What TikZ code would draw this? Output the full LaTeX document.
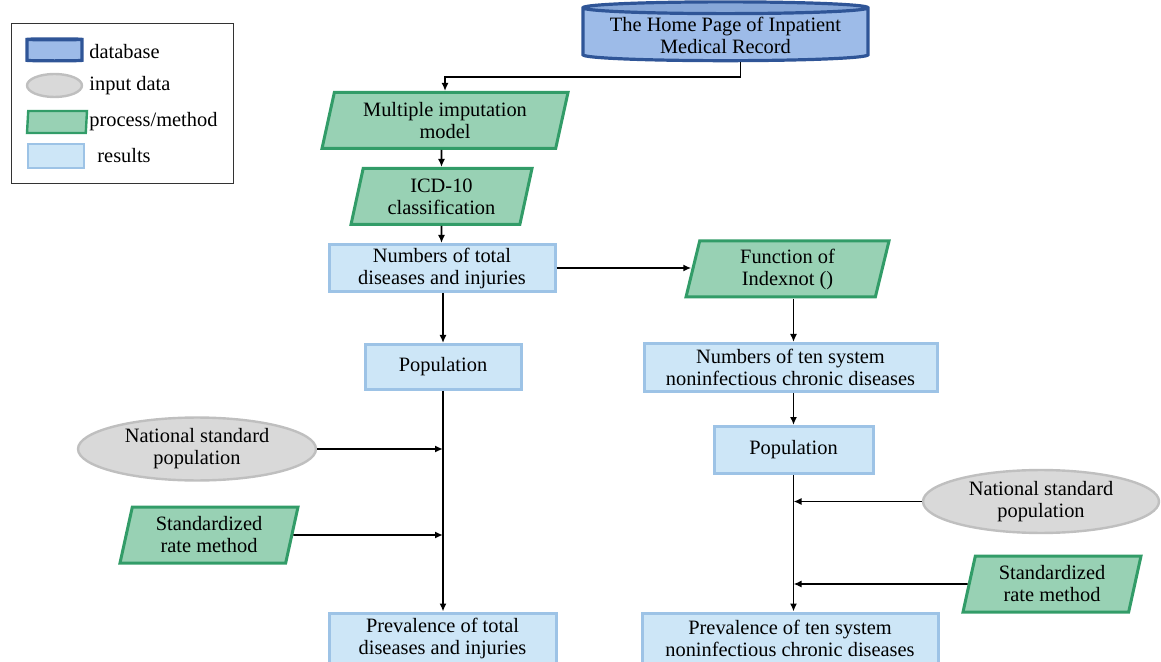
\documentclass[tikz,border=0pt]{standalone}
\usepackage{fontspec}
\setmainfont{Liberation Serif}
\usepackage{xcolor}
\usepackage{tikz}
\usetikzlibrary{shapes.geometric, arrows.meta, positioning, fit}

\definecolor{dbFill}{RGB}{157,187,232}
\definecolor{dbLine}{RGB}{47,85,151}
\definecolor{inFill}{RGB}{217,217,217}
\definecolor{inLine}{RGB}{191,191,191}
\definecolor{procFill}{RGB}{152,209,180}
\definecolor{procLine}{RGB}{50,156,104}
\definecolor{resFill}{RGB}{205,230,247}
\definecolor{resLine}{RGB}{157,195,230}

\begin{document}
\begin{tikzpicture}[ % pixel grid of the figure
    x=0.5pt, y=-0.5pt,
    every node/.style={font=\fontsize{10.2}{11}\selectfont, align=center},
    database/.style={cylinder, shape border rotate=90, shape aspect=0.05, draw=dbLine, line width=1.6pt, cylinder uses custom fill, cylinder body fill=dbFill, cylinder end fill=dbFill!80!dbLine, inner sep=1pt},
    inputdata/.style={ellipse, draw=inLine, fill=inFill, line width=1.2pt, inner sep=1pt},
    process/.style={trapezium, trapezium left angle=73, trapezium right angle=107, trapezium stretches body, draw=procLine, fill=procFill, line width=1.5pt, minimum height=28pt, inner sep=1pt},
    result/.style={rectangle, draw=resLine, fill=resFill, line width=1.5pt, minimum height=23.5pt, inner sep=1pt},
    keytext/.style={inner sep=1pt, anchor=west},
    line/.style={draw, line width=0.9pt, -{Latex[length=4pt, width=3.5pt]}}
    ]
    \useasboundingbox (0,0) rectangle (1161,662);

    % Legend
    \node [database, shape aspect=0.25, minimum width=27.5pt, minimum height=11pt] (keyDb) at (54.5,51) {};
    \node [inputdata, minimum width=27.5pt, minimum height=11.5pt] (keyIn) at (54.5,85.5) {};
    \node [process, minimum width=30pt, minimum height=11pt, line width=1.2pt] (keyProc) at (57,122) {};
    \node [result, minimum width=28pt, minimum height=12pt, line width=1.2pt] (keyRes) at (56,156) {};
    \node [keytext] (keyDbText) at (87,52) {database};
    \node [keytext] (keyInText) at (87,86) {input data};
    \node [keytext] (keyProcText) at (87,122) {process/method};
    \node [keytext] (keyResText) at (95,156) {results};
    \node [draw=black!80, line width=0.6pt, fit=(keyDb) (keyRes) (keyProcText), inner xsep=7pt, inner ysep=7pt] (legend) {};

    % Source
    \node [database, minimum width=142.5pt, minimum height=27.5pt] (homePage) at (725.5,35.5) {The Home Page of Inpatient\\Medical Record};

    % Total diseases and injuries
    \node [process, minimum width=123pt] (imputation) at (445,120.5) {Multiple imputation\\model};
    \node [process, minimum width=90.5pt] (icd) at (441.5,196.5) {ICD-10\\classification};
    \node [result, minimum width=113pt] (totalNum) at (442,268) {Numbers of total\\diseases and injuries};
    \node [result, minimum width=78pt, minimum height=22.5pt] (totalPop) at (443,367) {Population};
    \node [result, minimum width=113.5pt, minimum height=25pt] (totalPrev) at (442.5,638) {Prevalence of total\\diseases and injuries};
    \node [inputdata, minimum width=119pt, minimum height=30pt] (totalStd) at (197,449) {National standard\\population};
    \node [process, minimum width=89pt] (totalRate) at (209,535) {Standardized\\rate method};

    % Ten system noninfectious chronic diseases
    \node [process, minimum width=101.5pt] (indexnot) at (787.5,269) {Function of\\Indexnot ()};
    \node [result, minimum width=146.5pt, minimum height=24pt] (tenNum) at (790.5,367.5) {Numbers of ten system\\noninfectious chronic diseases};
    \node [result, minimum width=79.5pt] (tenPop) at (793.5,450) {Population};
    \node [result, minimum width=148pt, minimum height=25pt] (tenPrev) at (790,638) {Prevalence of ten system\\noninfectious chronic diseases};
    \node [inputdata, minimum width=118pt, minimum height=27.5pt] (tenStd) at (1041,501.5) {National standard\\population};
    \node [process, minimum width=89pt] (tenRate) at (1052,584) {Standardized\\rate method};

    % Draw edges
    \path [line] ([xshift=7.5pt]homePage.south) -- ++(0,15) -| (imputation.north);
    \path [line] (imputation.south -| icd) -- (icd);
    \path [line] (icd) -- (icd |- totalNum.north);
    \path [line] (totalNum.south -| totalPop) -- (totalPop);
    \path [line] (totalPop) -- (totalPrev.north -| totalPop);
    \path [line] (totalStd) -- (totalStd -| totalPop);
    \path [line] (totalRate) -- (totalRate -| totalPop);
    \path [line] (totalNum) -- (totalNum -| indexnot.west);
    \path [line] (indexnot.south -| tenPop) -- (tenNum.north -| tenPop);
    \path [line] (tenNum.south -| tenPop) -- (tenPop);
    \path [line] (tenPop) -- (tenPrev.north -| tenPop);
    \path [line] (tenStd) -- (tenStd -| tenPop);
    \path [line] (tenRate) -- (tenRate -| tenPop);

\end{tikzpicture}
\end{document}
